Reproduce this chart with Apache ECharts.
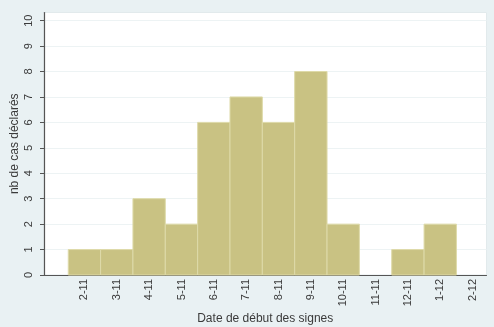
<!DOCTYPE html>
<html>
<head>
<meta charset="utf-8">
<style>
  html, body { margin: 0; padding: 0; background: #e9f1f3; }
  #chart { width: 494px; height: 327px; }
</style>
<script src="https://cdn.jsdelivr.net/npm/echarts@6/dist/echarts.min.js"></script>
</head>
<body>
<div id="chart"></div>
<script>
// Weekly onset dates (day-month) and number of reported cases per week
const weeks = ['2-11', '3-11', '4-11', '5-11', '6-11', '7-11', '8-11', '9-11', '10-11', '11-11', '12-11', '1-12', '2-12'];
const cases = [1, 1, 3, 2, 6, 7, 6, 8, 2, 0, 1, 2, 0];
const yTicks = [0, 1, 2, 3, 4, 5, 6, 7, 8, 9, 10];

const chart = echarts.init(document.getElementById('chart'), null, { renderer: 'canvas' });

const textColor = '#3a3a3a';
const font = 'Liberation Sans, Arial, sans-serif';

chart.setOption({
  backgroundColor: '#e9f1f3',
  animation: false,
  grid: {
    left: 44, right: 7.5, top: 12.5, bottom: 52,
    outerBoundsMode: 'none', containLabel: false,
    show: true, backgroundColor: '#ffffff', borderColor: '#e2eaec', borderWidth: 1
  },
  xAxis: {
    type: 'value',
    min: -1.25, max: 12.43,
    name: 'Date de début des signes',
    nameLocation: 'middle', nameGap: 38, nameMoveOverlap: false,
    nameTextStyle: { color: textColor, fontSize: 12, fontFamily: font },
    axisLine: { show: true, onZero: false, lineStyle: { color: '#555', width: 1.2 } },
    axisTick: { show: false },
    splitLine: { show: false },
    axisLabel: {
      customValues: weeks.map((_, i) => i),
      formatter: v => weeks[Math.round(v)] || '',
      rotate: 90, margin: 4,
      color: textColor, fontSize: 11, fontFamily: font
    }
  },
  yAxis: {
    type: 'value',
    min: 0, max: 10.32,
    name: 'nb de cas déclarés',
    nameLocation: 'middle', nameGap: 23, nameRotate: 90, nameMoveOverlap: false,
    nameTextStyle: { color: textColor, fontSize: 12, fontFamily: font },
    axisLine: { show: true, onZero: false, lineStyle: { color: '#555', width: 1.2 } },
    axisTick: { show: true, length: 4, customValues: yTicks, lineStyle: { color: '#555' } },
    splitLine: { show: true, lineStyle: { color: '#edf3f4', width: 1 } },
    axisLabel: {
      customValues: yTicks,
      rotate: 90, margin: 10,
      color: textColor, fontSize: 11, fontFamily: font
    }
  },
  series: [{
    type: 'custom',
    data: cases.map((v, i) => [i, v]),
    renderItem: function (params, api) {
      const i = api.value(0);
      const v = api.value(1);
      if (!v) return null;
      const p0 = api.coord([i - 0.5, v]);
      const p1 = api.coord([i + 0.5, 0]);
      return {
        type: 'rect',
        shape: { x: p0[0], y: p0[1], width: p1[0] - p0[0], height: p1[1] - p0[1] },
        style: { fill: '#c9c283', stroke: '#dedaa9', lineWidth: 1 }
      };
    }
  }]
});
</script>
</body>
</html>
